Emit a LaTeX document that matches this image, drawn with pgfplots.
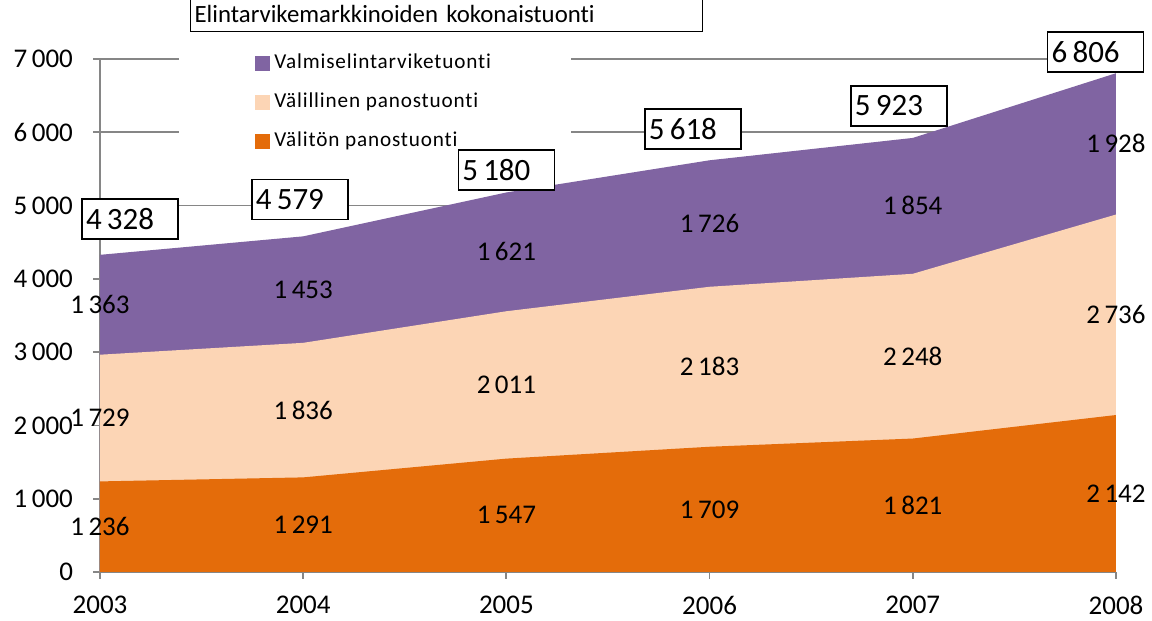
\documentclass[border=0pt]{standalone}
\usepackage{fontspec}
\setmainfont{Carlito}[Ligatures=NoCommon]
\newfontfamily\legendfont[LetterSpace=4,Ligatures=NoCommon]{Carlito}
\usepackage{pgfplots}
\pgfplotsset{compat=1.18}
\usepackage{pgfplotstable}

\definecolor{cPurple}{HTML}{8064A2}
\definecolor{cPeach}{HTML}{FCD5B5}
\definecolor{cOrange}{HTML}{E46C0A}
\definecolor{cGrid}{HTML}{868686}

\pgfplotstableread{
year a b c
2003 1236 1729 1363
2004 1291 1836 1453
2005 1547 2011 1621
2006 1709 2183 1726
2007 1821 2248 1854
2008 2142 2736 1928
}\datatable

\pgfplotstableread{
x y total
2003.148 4817 4328
2003.984 5083 4579
2005.000 5485 5180
2005.918 6044 5618
2006.932 6358 5923
2007.900 7095 6806
}\totaltable

\begin{document}
\begin{tikzpicture}
\useasboundingbox (-50pt,-24.5pt) rectangle (526pt,286pt);
\begin{axis}[
  at={(0,0)}, anchor=south west,
  scale only axis, width=508pt, height=256.5pt,
  xmin=2003, xmax=2008, ymin=0, ymax=7000,
  xtick={2003,2004,2005,2006,2007,2008},
  xticklabels={2003,2004,2005,2006,2007,2008},
  ytick={0,1000,2000,3000,4000,5000,6000,7000},
  /pgf/number format/1000 sep={\,},
  /pgf/number format/assume math mode=true,
  axis x line=bottom, axis y line=left,
  axis line style={cGrid, line width=0.9pt, -},
  tick style={cGrid, line width=0.9pt},
  tick align=outside, major tick length=3.5pt,
  ymajorgrids, grid style={cGrid, line width=0.9pt},
  ticklabel style={font=\fontsize{13.5}{16}\selectfont, text=black},
  yticklabel style={xshift=-6.5pt},
  xticklabel style={yshift=-5pt},
  clip=false,
  title={Elintarvikemarkkinoiden kokonaistuonti},
  title style={at={(0.0886,1.0994)}, anchor=north west, draw=black, fill=white,
    line width=0.6pt, text width=252pt, align=left, inner xsep=2pt, inner ysep=0pt,
    minimum height=17.5pt, font=\fontsize{12.4}{14}\selectfont},
  legend style={at={(0.0778,1.0273)}, anchor=north west, draw=none, fill=white,
    inner xsep=38pt, inner ysep=4pt, row sep=9.5pt,
    font=\legendfont\fontsize{10.6}{12}\selectfont,
    nodes={text height=7.5pt, text depth=2.5pt, inner ysep=0pt, inner xsep=2pt}},
  legend cell align=left,
  legend image code/.code={\fill[#1] (0pt,-3.75pt) rectangle (7.5pt,3.75pt);},
]
\addplot[fill=cPurple, draw=none] table[x=year, y expr=\thisrow{a}+\thisrow{b}+\thisrow{c}] {\datatable} \closedcycle;
\addlegendentry{Valmiselintarviketuonti}
\addplot[fill=cPeach, draw=none] table[x=year, y expr=\thisrow{a}+\thisrow{b}] {\datatable} \closedcycle;
\addlegendentry{Välillinen panostuonti}
\addplot[fill=cOrange, draw=none] table[x=year, y=a] {\datatable} \closedcycle;
\addlegendentry{Välitön panostuonti}

% segment value labels
\addplot[draw=none, nodes near coords, point meta=explicit,
  every node near coord/.style={anchor=center, text=black, font=\fontsize{13.5}{16}\selectfont}]
  table[x=year, y expr=\thisrow{a}/2, meta=a] {\datatable};
\addplot[draw=none, nodes near coords, point meta=explicit,
  every node near coord/.style={anchor=center, text=black, font=\fontsize{13.5}{16}\selectfont}]
  table[x=year, y expr=\thisrow{a}+\thisrow{b}/2, meta=b] {\datatable};
\addplot[draw=none, nodes near coords, point meta=explicit,
  every node near coord/.style={anchor=center, text=black, font=\fontsize{13.5}{16}\selectfont}]
  table[x=year, y expr=\thisrow{a}+\thisrow{b}+\thisrow{c}/2, meta=c] {\datatable};
\end{axis}
% overlay axis with the total boxes, drawn on top of everything
\begin{axis}[
  at={(0,0)}, anchor=south west,
  scale only axis, width=508pt, height=256.5pt,
  xmin=2003, xmax=2008, ymin=0, ymax=7000,
  hide axis, clip=false,
  /pgf/number format/1000 sep={\,},
  /pgf/number format/assume math mode=true,
]
\addplot[draw=none, nodes near coords, point meta=explicit,
  every node near coord/.style={anchor=center, draw=black, fill=white, text=black,
    line width=0.7pt, text width=44pt, align=left, inner xsep=2pt, inner ysep=0pt,
    minimum height=20pt, font=\fontsize{15.5}{18}\selectfont}]
  table[x=x, y=y, meta=total] {\totaltable};
\end{axis}
\end{tikzpicture}
\end{document}
